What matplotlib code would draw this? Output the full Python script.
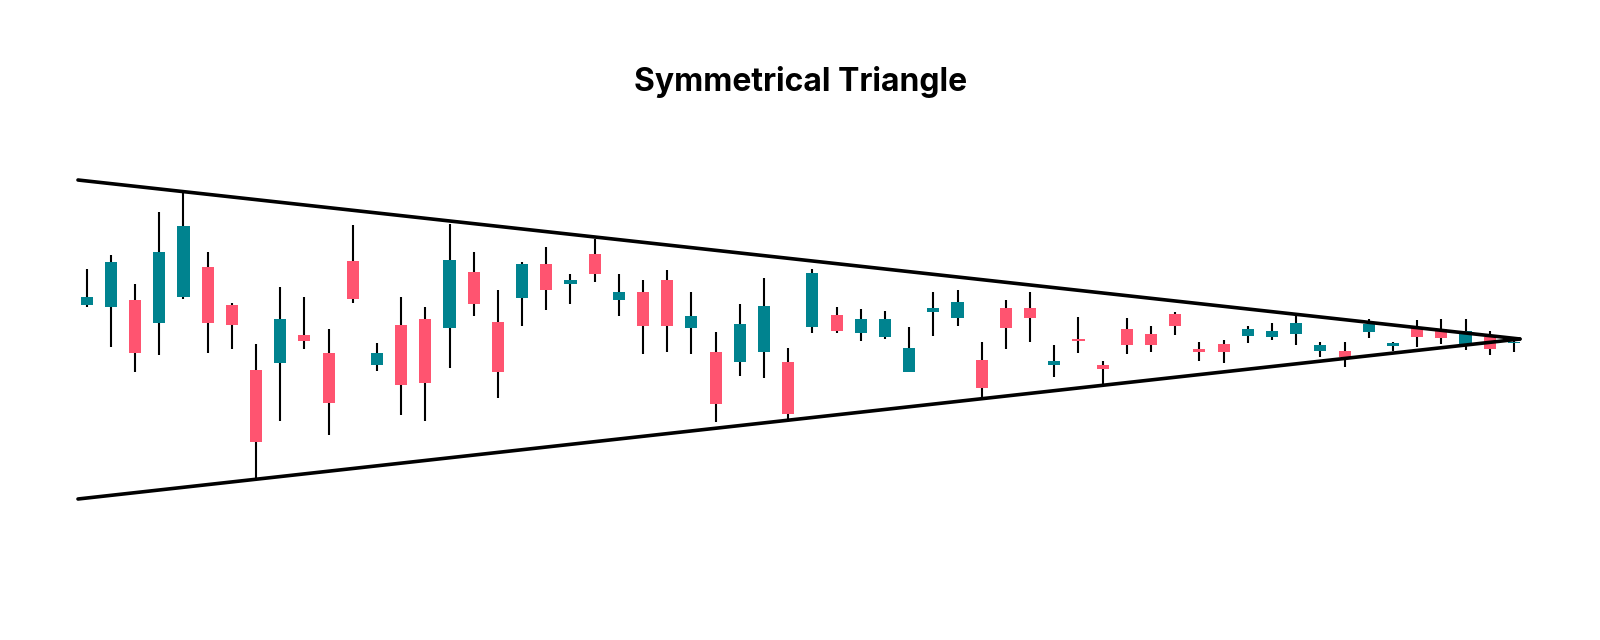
import matplotlib
matplotlib.use('agg')

import numpy as np
import matplotlib.pyplot as plt

# candle data (arbitrary price units)
opens = [295.0, 293.3, 300.0, 276.7, 302.7, 332.7, 294.7, 230.0, 237.3, 264.7,
         246.7, 338.7, 235.0, 274.7, 280.7, 272.0, 327.7, 277.7, 301.7, 335.7,
         316.0, 346.0, 300.0, 307.7, 319.7, 272.0, 247.7, 237.7, 247.7, 237.7,
         273.3, 284.7, 267.3, 263.3, 228.3, 288.0, 282.3, 240.0, 292.0, 292.0,
         235.3, 261.3, 235.0, 270.7, 266.3, 285.8, 251.0, 256.0, 264.3, 263.3,
         266.0, 248.7, 249.3, 268.3, 254.0, 273.3, 271.0, 256.0, 263.3, 257.0]
highs = [330.7, 344.7, 315.7, 388.3, 407.3, 348.3, 296.7, 256.0, 312.7, 302.7,
         270.7, 374.7, 256.7, 302.7, 292.7, 375.7, 347.7, 310.0, 337.7, 353.3,
         325.7, 361.0, 325.7, 319.7, 329.7, 307.7, 267.7, 295.7, 321.7, 251.7,
         330.7, 292.7, 290.7, 288.7, 272.7, 308.0, 310.0, 258.0, 300.0, 308.0,
         254.7, 283.0, 239.0, 281.7, 273.7, 288.5, 258.3, 260.0, 274.3, 276.7,
         284.3, 257.7, 257.7, 281.3, 258.0, 280.0, 280.7, 281.3, 269.0, 262.0]
lows = [293.3, 253.3, 228.3, 245.0, 300.7, 247.3, 251.0, 121.7, 179.3, 251.0,
        165.0, 296.7, 229.0, 185.0, 179.3, 232.0, 284.0, 201.7, 274.0, 290.0,
        296.0, 317.7, 284.0, 245.7, 247.7, 245.7, 178.3, 224.0, 221.7, 180.0,
        267.3, 267.3, 259.3, 261.3, 228.3, 264.3, 274.3, 202.3, 250.7, 258.3,
        223.3, 247.3, 215.3, 245.7, 247.7, 264.8, 239.3, 237.3, 256.7, 259.7,
        255.3, 243.3, 232.7, 261.7, 249.0, 253.0, 256.0, 250.3, 245.0, 248.0]
closes = [302.7, 338.3, 246.7, 348.3, 374.3, 276.7, 275.0, 158.3, 280.7, 259.3,
          197.3, 301.0, 246.7, 215.0, 217.3, 339.7, 296.0, 227.7, 335.7, 310.0,
          319.7, 326.0, 307.7, 274.0, 274.0, 283.7, 196.0, 275.7, 293.7, 186.0,
          326.7, 269.3, 280.7, 280.7, 252.0, 292.0, 298.0, 212.3, 272.3, 282.3,
          239.0, 259.3, 231.3, 254.7, 254.7, 273.8, 247.7, 247.7, 271.3, 268.7,
          276.7, 255.3, 243.3, 275.7, 256.7, 263.0, 262.3, 269.3, 250.7, 258.0]

# trend lines: (candle index, price)
upper_line = [(-0.36, 420.0), (59.25, 261.0)]
lower_line = [(-0.36, 101.0), (59.25, 261.0)]

up_color = '#00838f'
down_color = '#ff5470'

opens = np.array(opens)
closes = np.array(closes)
idx = np.arange(len(opens))
colors = np.where(closes >= opens, up_color, down_color)

fig = plt.figure(figsize=(16, 6.4), dpi=100)
ax = fig.add_axes([0, 0, 1, 1])

ax.vlines(idx, lows, highs, color='black', linewidth=1.5, zorder=1)
ax.bar(idx, np.abs(closes - opens), bottom=np.minimum(opens, closes),
       width=0.5, color=colors, zorder=2)

for line in (upper_line, lower_line):
    xs, ys = zip(*line)
    ax.plot(xs, ys, color='black', linewidth=2.6, solid_capstyle='round', zorder=3)

ax.set_xlim(-3.584, 62.56)
ax.set_ylim(-40, 600)
ax.axis('off')

fig.text(801 / 1600, 1 - 91 / 640, 'Symmetrical Triangle', ha='center',
         va='baseline', fontsize=23, fontweight='bold', family=['Inter', 'DejaVu Sans'])

fig.savefig('out.png', dpi=100, facecolor='white')
